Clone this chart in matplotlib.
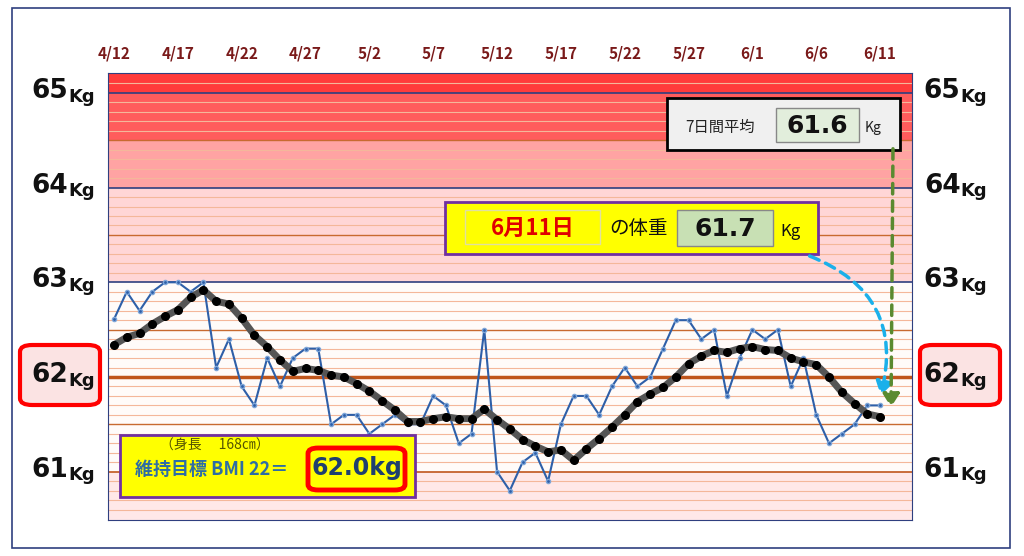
import matplotlib
matplotlib.use("Agg")
import matplotlib.pyplot as plt
from matplotlib.patches import FancyBboxPatch, Rectangle, FancyArrowPatch

plt.rcParams['font.family'] = ['Noto Sans CJK JP', 'DejaVu Sans']

date_labels = ["4/12","4/17","4/22","4/27","5/2","5/7","5/12","5/17","5/22","5/27","6/1","6/6","6/11"]
weight = [62.61,62.9,62.7,62.9,63.0,63.0,62.9,63.0,62.1,62.4,61.9,61.7,62.2,61.9,62.2,62.3,62.3,
          61.5,61.6,61.6,61.4,61.5,61.6,61.5,61.5,61.8,61.7,61.3,61.4,62.5,61.0,60.8,61.1,61.2,
          60.9,61.5,61.8,61.8,61.6,61.9,62.1,61.9,62.0,62.3,62.6,62.6,62.4,62.5,61.8,62.2,62.5,
          62.4,62.5,61.9,62.2,61.6,61.3,61.4,61.5,61.7,61.7]
avg7 = [62.34,62.42,62.46,62.56,62.64,62.71,62.84,62.92,62.8,62.77,62.62,62.44,62.32,62.18,62.06,
        62.09,62.07,62.02,62.0,61.93,61.85,61.75,61.65,61.53,61.53,61.56,61.58,61.56,61.56,61.66,
        61.55,61.45,61.34,61.27,61.21,61.23,61.12,61.24,61.35,61.47,61.6,61.74,61.82,61.89,62.0,
        62.14,62.22,62.28,62.26,62.3,62.32,62.29,62.28,62.2,62.16,62.13,62.0,61.84,61.72,61.61,61.58]
kg_ticks = [61, 62, 63, 64, 65]

W, H = 1024, 556
fig = plt.figure(figsize=(10.24, 5.56), dpi=100)
fig.patch.set_facecolor('white')
fig.add_artist(Rectangle((12/W, 8/H), 998/W, 540/H, transform=fig.transFigure,
                         fill=False, edgecolor='#2f3f7f', lw=1.2))

# red boxes around 62Kg (behind text)
for x0 in (20, 920):
    fig.add_artist(FancyBboxPatch((x0/W, 151/H), 80/W, 60/H, transform=fig.transFigure,
                                  boxstyle='round,pad=0,rounding_size=0.012', facecolor='#fbe3e3',
                                  edgecolor='#ff0000', lw=3, zorder=0))

ax = fig.add_axes([108/W, 36/H, 804/W, 447/H])
ax.set_xlim(-0.47, 62.5)
ax.set_ylim(60.49, 65.21)
days = list(range(len(weight)))

bands = [(60.49, 61.0, '#ffe8e8'), (61.0, 63.0, '#fffbf9'), (63.0, 64.0, '#ffd6d6'),
         (64.0, 64.5, '#ffa3a3'), (64.5, 65.0, '#ff5c5c'), (65.0, 65.21, '#ff3b3b')]
for lo, hi, c in bands:
    ax.axhspan(lo, hi, color=c, zorder=0, lw=0)
for i in range(606, 652):
    v = i / 10
    if abs(v - round(v)) < 1e-6:
        col, lw = ('#c0561c', 2.5) if round(v) == 62 else ('#2f3f7f' if round(v) in (63, 64, 65) else '#c0561c', 1.2)
    elif abs(v * 2 - round(v * 2)) < 1e-6:
        col, lw = '#c86a30', 1.0
    else:
        col, lw = '#f4b79a', 0.8
    ax.axhline(v, color=col, lw=lw, zorder=1)

ax.plot(days, weight, color='#2e5fa8', lw=1.5, marker='o', ms=3, mfc='#2e5fa8', mec='#7fa6d8', zorder=3)
ax.plot(days, avg7, color='#555555', lw=5, zorder=4, solid_capstyle='round')
ax.plot(days, avg7, ls='none', marker='o', ms=5.5, color='black', zorder=5)

ax.set_xticks([])
ax.set_yticks([])
for s in ax.spines.values():
    s.set_color('#2f3f7f')

for i, lab in enumerate(date_labels):
    ax.text(i * 5, 65.42, lab, ha='center', va='center', color='#7a1a1a', fontsize=11,
            fontweight='bold', clip_on=False)

for k in kg_ticks:
    for xnum in (-3.6, 66.3):
        ax.text(xnum, k + 0.02, f"{k}", ha='right', va='center', fontsize=19, fontweight='bold',
                color='#111111', clip_on=False, family='DejaVu Sans')
        ax.text(xnum, k - 0.04, "Kg", ha='left', va='center', fontsize=13, fontweight='bold',
                color='#111111', clip_on=False, family='DejaVu Sans')

def fbox(x, y, w, h, fc, ec, lw=1.5):
    fig.add_artist(Rectangle((x/W, (H-y-h)/H), w/W, h/H, transform=fig.transFigure,
                             facecolor=fc, edgecolor=ec, lw=lw, zorder=10))

def ftext(x, y, s, **kw):
    fig.text(x/W, (H-y)/H, s, zorder=11, **kw)

fbox(667, 98, 233, 52, '#f0f0f0', 'black', 2)
fbox(776, 108, 83, 34, '#e2eedc', '#888888', 1)
ftext(720, 127, "7日間平均", ha='center', va='center', fontsize=11, color='#222')
ftext(817, 126, "61.6", ha='center', va='center', fontsize=18, fontweight='bold', color='#111', family='DejaVu Sans')
ftext(873, 128, "Kg", ha='center', va='center', fontsize=10, color='#222')

fbox(445, 202, 373, 52, '#ffff00', '#7030a0', 2)
fbox(465, 210, 135, 34, '#ffff00', '#e0e0a0', 1)
fbox(677, 210, 96, 36, '#c8e0b4', '#888888', 1)
ftext(533, 228, "6月11日", ha='center', va='center', fontsize=16, fontweight='bold', color='#e00000')
ftext(639, 229, "の体重", ha='center', va='center', fontsize=14, color='#111')
ftext(725, 229, "61.7", ha='center', va='center', fontsize=18, fontweight='bold', color='#111', family='DejaVu Sans')
ftext(791, 232, "Kg", ha='center', va='center', fontsize=12, color='#111')

fbox(120, 435, 295, 62, '#ffff00', '#7030a0', 2)
ftext(215, 446, "（身長　 168㎝）", ha='center', va='center', fontsize=10, color='#555500')
ftext(212, 469, "維持目標 BMI 22＝", ha='center', va='center', fontsize=13, color='#2e6da4', fontweight='bold')
fig.add_artist(FancyBboxPatch((308/W, (H-490)/H), 97/W, 42/H, transform=fig.transFigure,
                              boxstyle='round,pad=0,rounding_size=0.01', facecolor='#ffff00',
                              edgecolor='#ff0000', lw=3.5, zorder=11))
ftext(357, 468, "62.0kg", ha='center', va='center', fontsize=17, color='#1f3f6f', fontweight='bold', family='DejaVu Sans')

fig.add_artist(FancyArrowPatch((807/W, (H-255)/H), (880/W, (H-398)/H), transform=fig.transFigure,
                               connectionstyle='arc3,rad=-0.45', arrowstyle='-|>,head_length=8,head_width=5',
                               color='#1ab0ea', lw=2.5, ls=(0, (3, 2)), zorder=12))
fig.add_artist(FancyArrowPatch((893/W, (H-146)/H), (891/W, (H-410)/H), transform=fig.transFigure,
                               arrowstyle='-|>,head_length=8,head_width=5',
                               color='#5a8a30', lw=2.5, ls=(0, (3, 2)), zorder=12))

fig.savefig("out.png", dpi=100, facecolor='white')
